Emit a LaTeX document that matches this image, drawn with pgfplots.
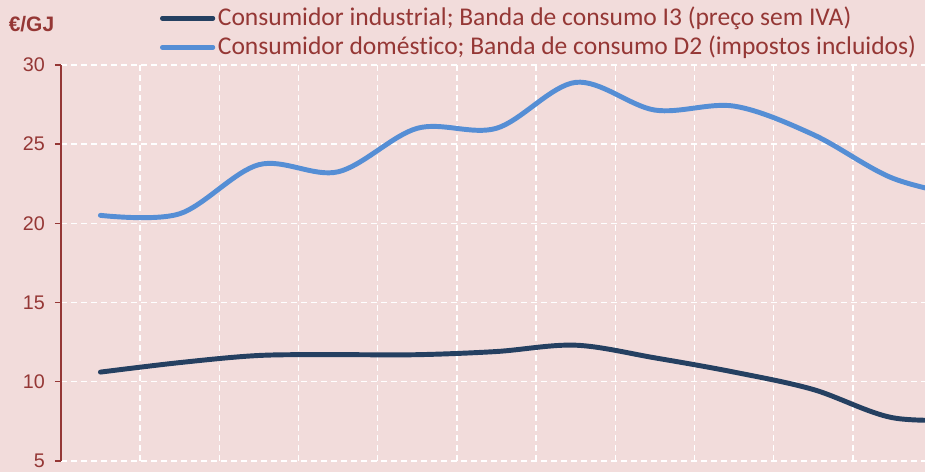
\documentclass[border=0pt]{standalone}
\usepackage{pgfplots}
\pgfplotsset{compat=1.18}
\usepackage{fontspec}
\setmainfont{Liberation Sans}
\newfontfamily\carlito[Ligatures={NoCommon,NoRequired,NoContextual}]{Carlito}
\definecolor{bgpink}{HTML}{F2DCDB}
\definecolor{txtred}{HTML}{953735}
\definecolor{darkblue}{HTML}{254061}
\definecolor{lightblue}{HTML}{558ED5}
\begin{document}
\begin{tikzpicture}
\path[use as bounding box, fill=bgpink] (-45.6pt,-8.5pt) rectangle (648pt,345.5pt);
\begin{axis}[
  at={(0,0)}, anchor=south west,
  scale only axis, width=648pt, height=296.8pt,
  xmin=0, xmax=10.91, ymin=5, ymax=30,
  axis x line*=bottom, axis y line*=left,
  x axis line style={draw=none},
  y axis line style={draw=txtred, line width=1.1pt},
  xtick={1,...,10}, xticklabels={},
  x tick style={draw=none},
  ytick={5,10,...,30},
  y tick style={draw=txtred, line width=1.1pt},
  tick align=outside, major tick length=4.5pt,
  grid=major,
  major grid style={white, line width=1.1pt, dash pattern=on 4.5pt off 3pt},
  /pgf/number format/assume math mode=true,
  yticklabel style={font=\fontsize{14.8}{17}\selectfont, text=txtred, xshift=-4pt},
  legend style={at={(axis description cs:0.1148,1.148)}, anchor=north west,
    draw=none, fill=none, inner sep=0pt, outer sep=0pt,
    font=\carlito\fontsize{19.15}{22}\selectfont, text=txtred,
    row sep=3.75pt, column sep=0pt,
    nodes={inner sep=0pt, text height=14pt, text depth=4pt},
    cells={anchor=west}},
  legend image code/.code={\draw[#1, line width=3.4pt, line cap=round] (0pt,0pt) -- (38pt,0pt);},
]
\addplot[darkblue, line width=3.7pt, line cap=round, smooth, tension=0.55] coordinates {
(0.5,10.6) (1.5,11.2) (2.5,11.65) (3.5,11.7) (4.5,11.7) (5.5,11.9) (6.5,12.3) (7.5,11.5) (8.5,10.6) (9.5,9.5) (10.5,7.72) (11.5,7.6)};
\addlegendentry{\hspace{2pt}Consumidor industrial; Banda de consumo I3 (preço sem IVA)}
\addplot[lightblue, line width=3.7pt, line cap=round, smooth, tension=0.55] coordinates {
(0.5,20.5) (1.5,20.6) (2.5,23.7) (3.5,23.25) (4.5,26.0) (5.5,26.0) (6.5,28.9) (7.5,27.15) (8.5,27.4) (9.5,25.6) (10.5,22.85) (11.5,21.6)};
\addlegendentry{\hspace{2pt}Consumidor doméstico; Banda de consumo D2 (impostos incluidos)}
\end{axis}
\node[anchor=base, font=\bfseries\fontsize{15.7}{18}\selectfont, text=txtred] at (-22pt,321.75pt) {€/GJ};
\end{tikzpicture}
\end{document}
